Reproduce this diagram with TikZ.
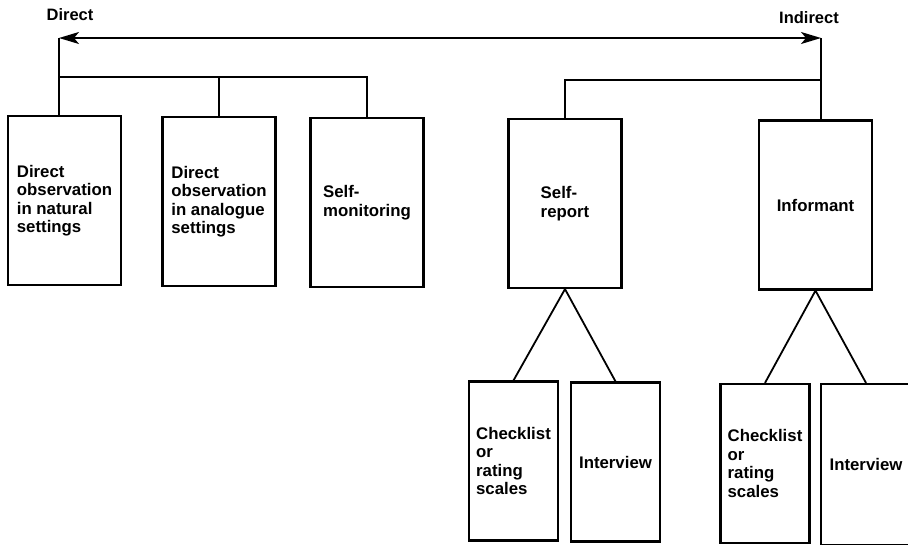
\documentclass[tikz,border=0pt]{standalone}
\usepackage{fontspec}
\setmainfont{Liberation Sans}
\usetikzlibrary{arrows.meta}
\tikzset{
	lbl/.style={font=\bfseries\fontsize{16.5}{18.4}\selectfont,inner sep=0pt},
	mainbox/.style={draw,line width=2.2pt,align=left,inner sep=0pt,minimum width=113pt,minimum height=169pt,font=\bfseries\fontsize{16.8}{18.4}\selectfont},
	subbox/.style={mainbox,minimum width=89pt,minimum height=159pt}
}
\begin{document}
\begin{tikzpicture}[>={Stealth[length=20pt,width=12pt,inset=5pt]},x=1pt,y=-1pt,line width=1.8pt]
	\useasboundingbox (0,0) rectangle (908,544);
	\clip (0,0) rectangle (908,544);
	% ends of the scale
	\coordinate (dl) at (59,38);
	\coordinate (dr) at (821,38);
	\coordinate (barl) at (59,77);
	\coordinate (barr) at (821,80);
	\node[lbl] (dirlbl) at (70,15) {Direct};
	\node[lbl] (indlbl) at (809,18) {Indirect};
	% methods
	\node[mainbox] (nat) at (64.5,200.5) {Direct\\observation\\in natural\\settings};
	\node[mainbox] (ana) at (219,201.5) {Direct\\observation\\in analogue\\settings};
	\node[mainbox] (smon) at (367,202.5) {Self-\\monitoring};
	\node[mainbox] (srep) at (565,203.5) {Self-\\report};
	\node[mainbox] (inf) at (815.5,205) {Informant};
	\node[subbox] (chk1) at (513.5,461) {Checklist\\or\\rating\\scales};
	\node[subbox] (int1) at (615.5,462) {Interview};
	\node[subbox] (chk2) at (765,463.5) {Checklist\\or\\rating\\scales};
	\node[subbox,minimum width=90pt,minimum height=161pt] (int2) at (866,464.5) {Interview};
	% connectors
	\draw[<->] (dl) -- (dr);
	\draw (dl) -- (dl |- nat.north);
	\draw (barl) -| (smon.north);
	\draw (ana.north |- barl) -- (ana.north);
	\draw (dr) -- (dr |- inf.north);
	\draw (barr) -| (srep.north);
	\draw (chk1.north) -- (srep.south) -- (int1.north);
	\draw (chk2.north) -- (inf.south) -- (int2.north);
\end{tikzpicture}
\end{document}
